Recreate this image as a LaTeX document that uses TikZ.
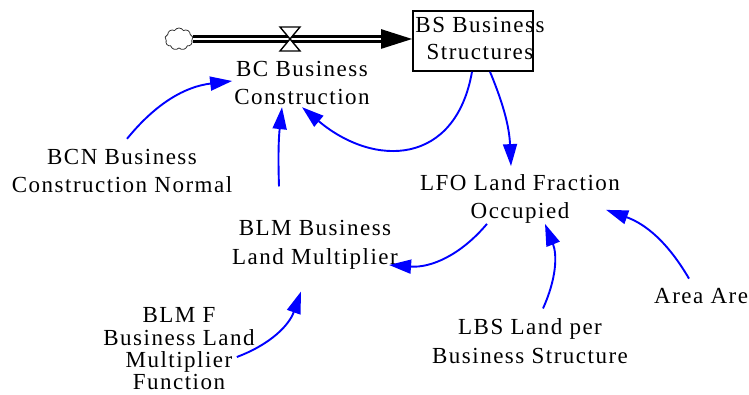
\documentclass[tikz,border=0pt]{standalone}
\usepackage{fontspec}
\setmainfont{Liberation Serif}[LetterSpace=6.5]
\usetikzlibrary{arrows.meta,shapes.symbols}

\begin{document}
\begin{tikzpicture}[x=1pt,y=1pt,>={Triangle[length=22pt,width=14pt]},
var/.style={align=center, inner sep=2pt, font=\fontsize{23}{28.5}\selectfont},
stock/.style={rectangle, draw, line width=1.6pt, minimum width=120pt, minimum height=60pt, inner sep=0pt, font=\fontsize{23}{27}\selectfont},
link/.style={->, blue, line width=1.9pt},
pipe/.style={double=white, double distance=2.5pt, line width=2.4pt, -{Triangle[length=31pt,width=19pt]}},
valveshape/.style={draw, fill=white, line width=1.4pt},
source/.style={cloud, cloud puffs=9, cloud puff arc=120, aspect=1.3, draw=black!80, line width=0.8pt, minimum width=28pt, minimum height=22pt, inner sep=0pt}]
\useasboundingbox (0,0) rectangle (749,395);
% stock and flow
\draw (179,356) node[source] (cloud) {};
\draw (473,354) node[stock] (BS) {\raisebox{-4pt}{\makebox[0pt]{\hspace*{14pt}\begin{tabular}{@{}c@{}}BS Business\\Structures\end{tabular}}}};
\draw[pipe] (cloud.east) -- (cloud.east -| BS.west);
\coordinate (valve) at (290,356);
\draw[valveshape] ([shift={(-10,12)}]valve) -- ([shift={(10,12)}]valve) -- (valve) -- cycle;
\draw[valveshape] ([shift={(-10,-12)}]valve) -- ([shift={(10,-12)}]valve) -- (valve) -- cycle;
% variables
\draw (302,312) node[var] (BC) {BC Business\\Construction};
\draw (122,224) node[var] (BCN) {BCN Business\\Construction Normal};
\draw (315,150) node[var] (BLM) {BLM Business\\Land Multiplier};
\draw (520,196) node[var] (LFO) {LFO Land Fraction\\Occupied};
\draw (530,54) node[var] (LBS) {LBS Land per\\Business Structure};
\draw (179,46) node[var, font=\fontsize{23}{22.3}\selectfont] (BLMF) {BLM F\\Business Land\\Multiplier\\Function};
\draw (652,91) node[var, anchor=base west] (Area) {Area Are};
% links
\draw[link] ([shift={(5,8)}]BCN.north) to[bend left=22] ([yshift=2pt]BC.west);
\draw[link] ([shift={(-36,32)}]BLM.north) to[bend left=4] ([xshift=-20pt]BC.south);
\draw[link] ([xshift=-1pt]BS.south) to[out=-100,in=-40,looseness=1.4] (BC.south);
\draw[link] ([xshift=17pt]BS.south) to[bend left=10] ([shift={(-9,6)}]LFO.north);
\draw[link] ([shift={(-33,2)}]LFO.south) to[bend left=27] ([shift={(-11,-20)}]BLM.east);
\draw[link] ([shift={(13,8)}]LBS.north) to[bend right=23] ([shift={(25,2)}]LFO.south);
\draw[link] ([shift={(37,8)}]Area.north west) to[bend right=20] ([shift={(-16,16)}]LFO.south east);
\draw[link] ([shift={(-20,-8)}]BLMF.east) to[bend right=25] ([shift={(-14,-20)}]BLM.south);
\end{tikzpicture}
\end{document}
